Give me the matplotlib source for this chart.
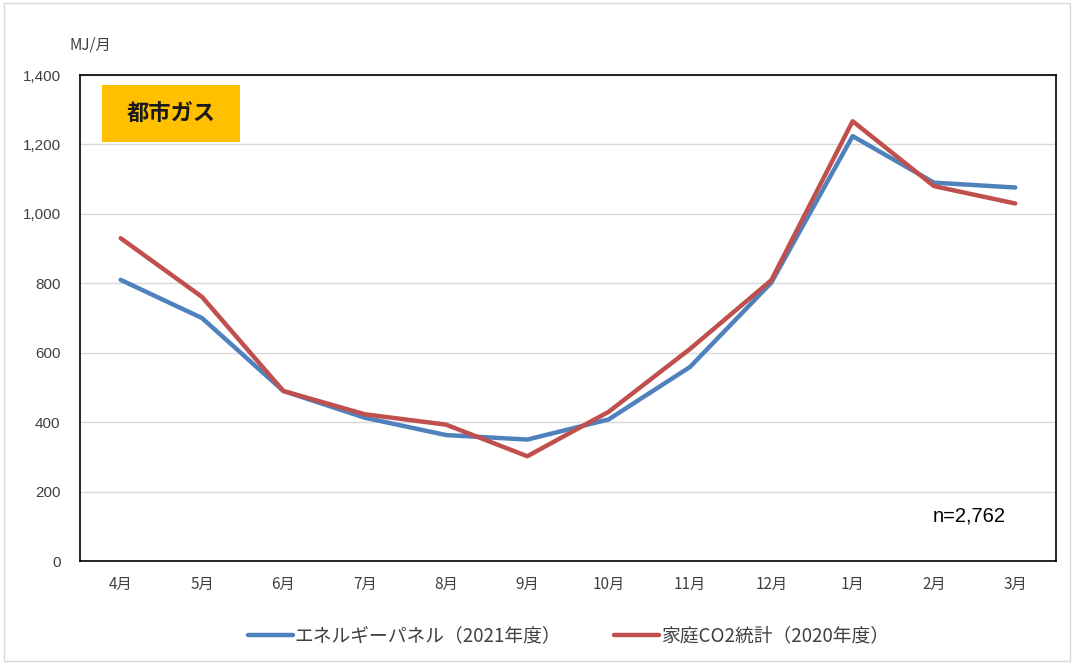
import matplotlib.pyplot as plt
from matplotlib.patches import Rectangle

plt.rcParams['font.family'] = ['Noto Sans CJK JP', 'DejaVu Sans']

months = ['4月', '5月', '6月', '7月', '8月', '9月', '10月', '11月', '12月', '1月', '2月', '3月']
panel_2021 = [810, 700, 490, 413, 363, 350, 408, 559, 802, 1224, 1090, 1076]
stats_2020 = [930, 761, 490, 423, 393, 302, 430, 611, 809, 1267, 1080, 1030]
label_panel = 'エネルギーパネル（2021年度）'
label_stats = '家庭CO2統計（2020年度）'

fig = plt.figure(figsize=(10.74, 6.64), dpi=100)
fig.patches.append(Rectangle((0.004, 0.004), 0.992, 0.992, transform=fig.transFigure,
                             fill=False, edgecolor='#D9D9D9', linewidth=1))
ax = fig.add_axes([0.0745, 0.155, 0.9087, 0.732])

x = list(range(len(months)))
ax.plot(x, panel_2021, color='#4F81BD', linewidth=3.2, solid_capstyle='round', label=label_panel)
ax.plot(x, stats_2020, color='#C0504D', linewidth=3.2, solid_capstyle='round', label=label_stats)

ax.set_xlim(-0.5, 11.5)
ax.set_ylim(0, 1400)
ax.set_yticks(range(0, 1401, 200))
ax.set_yticklabels([f'{v:,}' for v in range(0, 1401, 200)], family=['Liberation Sans'])
ax.set_xticks(x)
ax.set_xticklabels(months)
ax.tick_params(length=0, labelsize=11, colors='#404040')
ax.tick_params(axis='x', pad=11)
ax.tick_params(axis='y', pad=14)
ax.grid(axis='y', color='#D9D9D9', linewidth=1)
ax.set_axisbelow(True)
for s in ax.spines.values():
    s.set_color('black')
    s.set_linewidth(1.2)

fig.text(0.065, 0.932, 'MJ/月', ha='left', va='center', fontsize=11, color='#404040')
ax.text(10.88, 130, 'n=2,762', ha='right', va='center', fontsize=14.5, color='black',
        family=['Liberation Sans'])

ax.add_patch(Rectangle((0.0225, 0.862), 0.141, 0.117, transform=ax.transAxes,
                       facecolor='#FFC000', edgecolor='none', zorder=3))
ax.text(0.093, 0.92, '都市ガス', transform=ax.transAxes, ha='center', va='center',
        fontsize=16, fontweight='bold', color='#1a1a1a', zorder=4)

fig.legend(loc='center', bbox_to_anchor=(0.529, 0.042), ncol=2, frameon=False,
           fontsize=13.5, handlelength=2.4, handletextpad=0.1, columnspacing=2.8,
           labelcolor='#404040')

fig.savefig('out.png', dpi=100)
